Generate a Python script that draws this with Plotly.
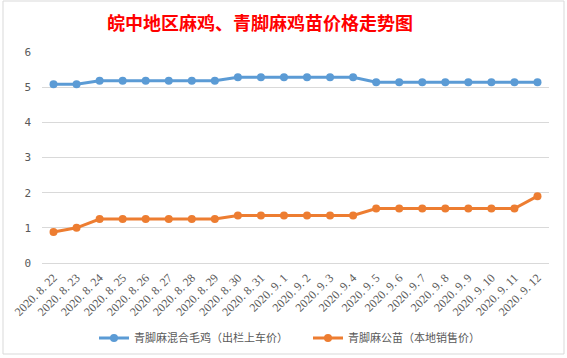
import plotly.graph_objects as go

categories = ["2020. 8. 22", "2020. 8. 23", "2020. 8. 24", "2020. 8. 25", "2020. 8. 26",
              "2020. 8. 27", "2020. 8. 28", "2020. 8. 29", "2020. 8. 30", "2020. 8. 31",
              "2020. 9. 1", "2020. 9. 2", "2020. 9. 3", "2020. 9. 4", "2020. 9. 5",
              "2020. 9. 6", "2020. 9. 7", "2020. 9. 8", "2020. 9. 9", "2020. 9. 10",
              "2020. 9. 11", "2020. 9. 12"]
mixed_chicken = [5.08, 5.08, 5.18, 5.18, 5.18, 5.18, 5.18, 5.18, 5.28, 5.28,
                 5.28, 5.28, 5.28, 5.28, 5.14, 5.14, 5.14, 5.14, 5.14, 5.14,
                 5.14, 5.14]
chick_price = [0.88, 1.0, 1.25, 1.25, 1.25, 1.25, 1.25, 1.25, 1.35, 1.35,
               1.35, 1.35, 1.35, 1.35, 1.55, 1.55, 1.55, 1.55, 1.55, 1.55,
               1.55, 1.9]
y_ticks = [0, 1, 2, 3, 4, 5, 6]
series_names = ["青脚麻混合毛鸡（出栏上车价）", "青脚麻公苗（本地销售价）"]
title_text = "皖中地区麻鸡、青脚麻鸡苗价格走势图"

W, H = 567, 358
L, R, T, B = 42, 549, 52, 263

fig = go.Figure()
fig.add_trace(go.Scatter(x=categories, y=mixed_chicken, name=series_names[0],
                         mode="lines+markers",
                         line=dict(color="#5B9BD5", width=3),
                         marker=dict(color="#5B9BD5", size=8)))
fig.add_trace(go.Scatter(x=categories, y=chick_price, name=series_names[1],
                         mode="lines+markers",
                         line=dict(color="#ED7D31", width=3),
                         marker=dict(color="#ED7D31", size=8)))

def px_x(x):
    return (x - L) / (R - L)

def px_y(y):
    return (B - y) / (B - T)

fig.add_shape(type="rect", xref="paper", yref="paper",
              x0=px_x(3), x1=px_x(564), y0=px_y(354), y1=px_y(1),
              line=dict(color="#D9D9D9", width=1), layer="below")

fig.update_layout(
    width=W, height=H,
    margin=dict(l=L, r=W - R, t=T, b=H - B, autoexpand=False),
    paper_bgcolor="white", plot_bgcolor="white",
    title=dict(text=title_text, x=260 / W, xref="container", xanchor="center",
               y=1 - 24 / H, yref="container", yanchor="middle",
               font=dict(family="Noto Sans CJK SC", size=18, color="#FF0000", weight="bold")),
    font=dict(family="Noto Sans CJK SC", color="#595959", size=11),
    showlegend=True,
    legend=dict(orientation="h", x=px_x(94), xanchor="left", y=px_y(338), yanchor="middle",
                font=dict(family="Noto Sans CJK SC", size=11, color="#595959"),
                entrywidth=169, entrywidthmode="pixels", itemwidth=30,
                bgcolor="rgba(0,0,0,0)"),
)
fig.update_xaxes(type="category", range=[-0.5, len(categories) - 0.5], automargin=False,
                 tickangle=-45, showgrid=False, showline=True, linecolor="#D9D9D9",
                 tickfont=dict(family="Liberation Serif", size=12, color="#595959"),
                 ticks="", ticklabelstandoff=2)
fig.update_yaxes(range=[0, 6], tickvals=y_ticks, showgrid=True, gridcolor="#D9D9D9",
                 zeroline=False, showline=False, ticks="", automargin=False,
                 tickfont=dict(family="DejaVu Sans Mono", size=11, color="#595959"),
                 ticklabelstandoff=10)

fig.write_html("out.html", config={"displayModeBar": False},
               post_script="document.body.style.margin='0';document.body.style.overflow='hidden';")
